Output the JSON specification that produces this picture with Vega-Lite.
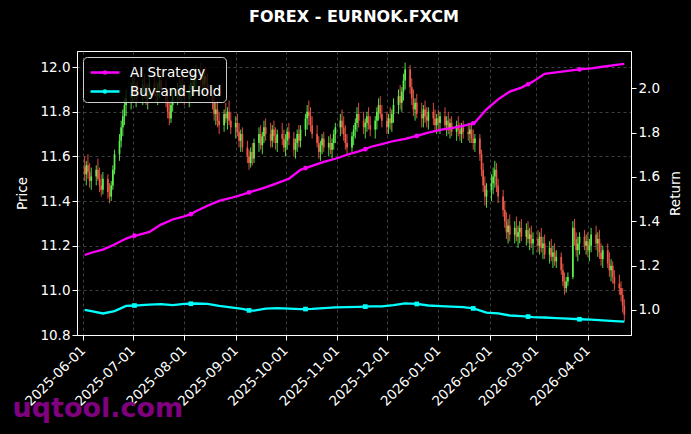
{
  "$schema": "https://vega.github.io/schema/vega-lite/v6.json",
  "autosize": {"type": "none"},
  "width": 554,
  "height": 284,
  "padding": {"left": 77, "top": 51, "right": 60, "bottom": 99},
  "background": "black",
  "title": {
    "text": "FOREX - EURNOK.FXCM",
    "color": "white",
    "font": "DejaVu Sans",
    "fontSize": 16,
    "fontWeight": "bold",
    "offset": 26
  },
  "config": {
    "view": {"stroke": "white", "strokeWidth": 1},
    "font": "DejaVu Sans",
    "axis": {
      "domainColor": "white",
      "tickColor": "white",
      "labelColor": "white",
      "titleColor": "white",
      "labelFont": "DejaVu Sans",
      "titleFont": "DejaVu Sans",
      "labelFontSize": 13.5,
      "titleFontSize": 13.5,
      "titleFontWeight": "normal",
      "tickSize": 5,
      "gridColor": "#5a5a5a",
      "gridDash": [3, 3],
      "gridWidth": 0.7
    },
    "legend": {
      "labelColor": "white",
      "labelFont": "DejaVu Sans",
      "labelFontSize": 13.5
    }
  },
  "datasets": {
    "candles": [
      {"d":"2025-06-02","o":11.55,"h":11.60,"l":11.49,"c":11.52},
      {"d":"2025-06-03","o":11.52,"h":11.58,"l":11.47,"c":11.56},
      {"d":"2025-06-04","o":11.56,"h":11.61,"l":11.50,"c":11.53},
      {"d":"2025-06-05","o":11.53,"h":11.57,"l":11.46,"c":11.49},
      {"d":"2025-06-06","o":11.49,"h":11.55,"l":11.45,"c":11.51},
      {"d":"2025-06-09","o":11.51,"h":11.56,"l":11.47,"c":11.54},
      {"d":"2025-06-10","o":11.54,"h":11.59,"l":11.49,"c":11.50},
      {"d":"2025-06-11","o":11.50,"h":11.55,"l":11.44,"c":11.47},
      {"d":"2025-06-12","o":11.47,"h":11.52,"l":11.42,"c":11.45},
      {"d":"2025-06-13","o":11.45,"h":11.53,"l":11.43,"c":11.50},
      {"d":"2025-06-16","o":11.50,"h":11.52,"l":11.41,"c":11.44},
      {"d":"2025-06-17","o":11.44,"h":11.48,"l":11.39,"c":11.42},
      {"d":"2025-06-18","o":11.42,"h":11.49,"l":11.40,"c":11.47},
      {"d":"2025-06-19","o":11.47,"h":11.56,"l":11.45,"c":11.54},
      {"d":"2025-06-20","o":11.54,"h":11.63,"l":11.52,"c":11.61},
      {"d":"2025-06-23","o":11.61,"h":11.70,"l":11.58,"c":11.67},
      {"d":"2025-06-24","o":11.67,"h":11.76,"l":11.64,"c":11.73},
      {"d":"2025-06-25","o":11.73,"h":11.81,"l":11.69,"c":11.78},
      {"d":"2025-06-26","o":11.78,"h":11.86,"l":11.74,"c":11.83},
      {"d":"2025-06-27","o":11.83,"h":11.90,"l":11.78,"c":11.86},
      {"d":"2025-06-30","o":11.86,"h":11.93,"l":11.81,"c":11.88},
      {"d":"2025-07-01","o":11.88,"h":11.95,"l":11.84,"c":11.91},
      {"d":"2025-07-02","o":11.91,"h":11.96,"l":11.85,"c":11.87},
      {"d":"2025-07-03","o":11.87,"h":11.93,"l":11.82,"c":11.90},
      {"d":"2025-07-04","o":11.90,"h":11.94,"l":11.85,"c":11.88},
      {"d":"2025-07-07","o":11.88,"h":11.95,"l":11.83,"c":11.92},
      {"d":"2025-07-08","o":11.92,"h":11.97,"l":11.86,"c":11.89},
      {"d":"2025-07-09","o":11.89,"h":11.93,"l":11.83,"c":11.86},
      {"d":"2025-07-10","o":11.86,"h":11.92,"l":11.81,"c":11.90},
      {"d":"2025-07-11","o":11.90,"h":11.96,"l":11.86,"c":11.93},
      {"d":"2025-07-14","o":11.93,"h":11.98,"l":11.87,"c":11.89},
      {"d":"2025-07-15","o":11.89,"h":11.94,"l":11.84,"c":11.87},
      {"d":"2025-07-16","o":11.87,"h":11.93,"l":11.83,"c":11.91},
      {"d":"2025-07-17","o":11.91,"h":11.97,"l":11.86,"c":11.94},
      {"d":"2025-07-18","o":11.94,"h":11.99,"l":11.88,"c":11.90},
      {"d":"2025-07-21","o":11.90,"h":11.94,"l":11.82,"c":11.85},
      {"d":"2025-07-22","o":11.85,"h":11.89,"l":11.77,"c":11.80},
      {"d":"2025-07-23","o":11.80,"h":11.84,"l":11.74,"c":11.77},
      {"d":"2025-07-24","o":11.77,"h":11.85,"l":11.75,"c":11.83},
      {"d":"2025-07-25","o":11.83,"h":11.90,"l":11.80,"c":11.87},
      {"d":"2025-07-28","o":11.87,"h":11.93,"l":11.83,"c":11.90},
      {"d":"2025-07-29","o":11.90,"h":11.95,"l":11.85,"c":11.88},
      {"d":"2025-07-30","o":11.88,"h":11.94,"l":11.84,"c":11.92},
      {"d":"2025-07-31","o":11.92,"h":11.97,"l":11.87,"c":11.89},
      {"d":"2025-08-01","o":11.89,"h":11.93,"l":11.83,"c":11.86},
      {"d":"2025-08-04","o":11.86,"h":11.92,"l":11.82,"c":11.90},
      {"d":"2025-08-05","o":11.90,"h":11.96,"l":11.86,"c":11.93},
      {"d":"2025-08-06","o":11.93,"h":11.98,"l":11.88,"c":11.91},
      {"d":"2025-08-07","o":11.91,"h":11.97,"l":11.87,"c":11.95},
      {"d":"2025-08-08","o":11.95,"h":12.01,"l":11.90,"c":11.97},
      {"d":"2025-08-11","o":11.97,"h":12.02,"l":11.91,"c":11.94},
      {"d":"2025-08-12","o":11.94,"h":11.99,"l":11.88,"c":11.92},
      {"d":"2025-08-13","o":11.92,"h":11.98,"l":11.87,"c":11.96},
      {"d":"2025-08-14","o":11.96,"h":12.00,"l":11.90,"c":11.93},
      {"d":"2025-08-15","o":11.93,"h":11.97,"l":11.86,"c":11.88},
      {"d":"2025-08-18","o":11.88,"h":11.92,"l":11.81,"c":11.84},
      {"d":"2025-08-19","o":11.84,"h":11.87,"l":11.76,"c":11.79},
      {"d":"2025-08-20","o":11.79,"h":11.84,"l":11.74,"c":11.81},
      {"d":"2025-08-21","o":11.81,"h":11.85,"l":11.73,"c":11.76},
      {"d":"2025-08-22","o":11.76,"h":11.80,"l":11.70,"c":11.74},
      {"d":"2025-08-25","o":11.74,"h":11.81,"l":11.71,"c":11.79},
      {"d":"2025-08-26","o":11.79,"h":11.84,"l":11.75,"c":11.77},
      {"d":"2025-08-27","o":11.77,"h":11.82,"l":11.72,"c":11.80},
      {"d":"2025-08-28","o":11.80,"h":11.85,"l":11.74,"c":11.76},
      {"d":"2025-08-29","o":11.76,"h":11.80,"l":11.70,"c":11.73},
      {"d":"2025-09-01","o":11.73,"h":11.78,"l":11.68,"c":11.75},
      {"d":"2025-09-02","o":11.75,"h":11.79,"l":11.69,"c":11.71},
      {"d":"2025-09-03","o":11.71,"h":11.75,"l":11.64,"c":11.67},
      {"d":"2025-09-04","o":11.67,"h":11.72,"l":11.62,"c":11.70},
      {"d":"2025-09-05","o":11.70,"h":11.73,"l":11.62,"c":11.64},
      {"d":"2025-09-08","o":11.64,"h":11.67,"l":11.57,"c":11.60},
      {"d":"2025-09-09","o":11.60,"h":11.63,"l":11.54,"c":11.57},
      {"d":"2025-09-10","o":11.57,"h":11.64,"l":11.55,"c":11.62},
      {"d":"2025-09-11","o":11.62,"h":11.66,"l":11.56,"c":11.59},
      {"d":"2025-09-12","o":11.59,"h":11.68,"l":11.57,"c":11.66},
      {"d":"2025-09-15","o":11.66,"h":11.73,"l":11.62,"c":11.70},
      {"d":"2025-09-16","o":11.70,"h":11.74,"l":11.63,"c":11.65},
      {"d":"2025-09-17","o":11.65,"h":11.71,"l":11.61,"c":11.69},
      {"d":"2025-09-18","o":11.69,"h":11.76,"l":11.66,"c":11.73},
      {"d":"2025-09-19","o":11.73,"h":11.77,"l":11.67,"c":11.70},
      {"d":"2025-09-22","o":11.70,"h":11.75,"l":11.64,"c":11.67},
      {"d":"2025-09-23","o":11.67,"h":11.74,"l":11.64,"c":11.72},
      {"d":"2025-09-24","o":11.72,"h":11.76,"l":11.66,"c":11.69},
      {"d":"2025-09-25","o":11.69,"h":11.73,"l":11.63,"c":11.66},
      {"d":"2025-09-26","o":11.66,"h":11.72,"l":11.62,"c":11.70},
      {"d":"2025-09-29","o":11.70,"h":11.75,"l":11.65,"c":11.68},
      {"d":"2025-09-30","o":11.68,"h":11.72,"l":11.62,"c":11.64},
      {"d":"2025-10-01","o":11.64,"h":11.70,"l":11.60,"c":11.67},
      {"d":"2025-10-02","o":11.67,"h":11.73,"l":11.63,"c":11.71},
      {"d":"2025-10-03","o":11.71,"h":11.75,"l":11.65,"c":11.68},
      {"d":"2025-10-06","o":11.68,"h":11.71,"l":11.60,"c":11.63},
      {"d":"2025-10-07","o":11.63,"h":11.68,"l":11.59,"c":11.66},
      {"d":"2025-10-08","o":11.66,"h":11.72,"l":11.62,"c":11.70},
      {"d":"2025-10-09","o":11.70,"h":11.74,"l":11.64,"c":11.67},
      {"d":"2025-10-10","o":11.67,"h":11.74,"l":11.64,"c":11.72},
      {"d":"2025-10-13","o":11.72,"h":11.79,"l":11.69,"c":11.77},
      {"d":"2025-10-14","o":11.77,"h":11.83,"l":11.72,"c":11.80},
      {"d":"2025-10-15","o":11.80,"h":11.85,"l":11.74,"c":11.78},
      {"d":"2025-10-16","o":11.78,"h":11.82,"l":11.71,"c":11.74},
      {"d":"2025-10-17","o":11.74,"h":11.78,"l":11.68,"c":11.70},
      {"d":"2025-10-20","o":11.70,"h":11.74,"l":11.64,"c":11.66},
      {"d":"2025-10-21","o":11.66,"h":11.69,"l":11.59,"c":11.62},
      {"d":"2025-10-22","o":11.62,"h":11.67,"l":11.58,"c":11.65},
      {"d":"2025-10-23","o":11.65,"h":11.70,"l":11.61,"c":11.68},
      {"d":"2025-10-24","o":11.68,"h":11.71,"l":11.62,"c":11.64},
      {"d":"2025-10-27","o":11.64,"h":11.69,"l":11.60,"c":11.66},
      {"d":"2025-10-28","o":11.66,"h":11.70,"l":11.61,"c":11.63},
      {"d":"2025-10-29","o":11.63,"h":11.68,"l":11.59,"c":11.66},
      {"d":"2025-10-30","o":11.66,"h":11.72,"l":11.63,"c":11.70},
      {"d":"2025-10-31","o":11.70,"h":11.75,"l":11.66,"c":11.73},
      {"d":"2025-11-03","o":11.73,"h":11.79,"l":11.69,"c":11.76},
      {"d":"2025-11-04","o":11.76,"h":11.81,"l":11.70,"c":11.73},
      {"d":"2025-11-05","o":11.73,"h":11.78,"l":11.67,"c":11.70},
      {"d":"2025-11-06","o":11.70,"h":11.74,"l":11.63,"c":11.66},
      {"d":"2025-11-07","o":11.66,"h":11.70,"l":11.61,"c":11.64},
      {"d":"2025-11-10","o":11.64,"h":11.71,"l":11.62,"c":11.69},
      {"d":"2025-11-11","o":11.69,"h":11.74,"l":11.65,"c":11.72},
      {"d":"2025-11-12","o":11.72,"h":11.77,"l":11.68,"c":11.75},
      {"d":"2025-11-13","o":11.75,"h":11.82,"l":11.71,"c":11.79},
      {"d":"2025-11-14","o":11.79,"h":11.84,"l":11.73,"c":11.76},
      {"d":"2025-11-17","o":11.76,"h":11.80,"l":11.70,"c":11.73},
      {"d":"2025-11-18","o":11.73,"h":11.77,"l":11.68,"c":11.75},
      {"d":"2025-11-19","o":11.75,"h":11.80,"l":11.71,"c":11.78},
      {"d":"2025-11-20","o":11.78,"h":11.82,"l":11.72,"c":11.74},
      {"d":"2025-11-21","o":11.74,"h":11.78,"l":11.69,"c":11.72},
      {"d":"2025-11-24","o":11.72,"h":11.78,"l":11.68,"c":11.76},
      {"d":"2025-11-25","o":11.76,"h":11.82,"l":11.72,"c":11.80},
      {"d":"2025-11-26","o":11.80,"h":11.86,"l":11.76,"c":11.83},
      {"d":"2025-11-27","o":11.83,"h":11.87,"l":11.77,"c":11.79},
      {"d":"2025-11-28","o":11.79,"h":11.83,"l":11.73,"c":11.76},
      {"d":"2025-12-01","o":11.76,"h":11.80,"l":11.70,"c":11.73},
      {"d":"2025-12-02","o":11.73,"h":11.79,"l":11.70,"c":11.77},
      {"d":"2025-12-03","o":11.77,"h":11.82,"l":11.72,"c":11.75},
      {"d":"2025-12-04","o":11.75,"h":11.81,"l":11.71,"c":11.79},
      {"d":"2025-12-05","o":11.79,"h":11.86,"l":11.75,"c":11.83},
      {"d":"2025-12-08","o":11.83,"h":11.90,"l":11.79,"c":11.87},
      {"d":"2025-12-09","o":11.87,"h":11.92,"l":11.81,"c":11.84},
      {"d":"2025-12-10","o":11.84,"h":11.91,"l":11.80,"c":11.89},
      {"d":"2025-12-11","o":11.89,"h":11.97,"l":11.85,"c":11.94},
      {"d":"2025-12-12","o":11.94,"h":12.02,"l":11.90,"c":11.99},
      {"d":"2025-12-15","o":11.99,"h":12.01,"l":11.88,"c":11.91},
      {"d":"2025-12-16","o":11.91,"h":11.95,"l":11.83,"c":11.86},
      {"d":"2025-12-17","o":11.86,"h":11.90,"l":11.78,"c":11.81},
      {"d":"2025-12-18","o":11.81,"h":11.86,"l":11.76,"c":11.84},
      {"d":"2025-12-19","o":11.84,"h":11.88,"l":11.77,"c":11.79},
      {"d":"2025-12-22","o":11.79,"h":11.84,"l":11.73,"c":11.77},
      {"d":"2025-12-23","o":11.77,"h":11.83,"l":11.73,"c":11.81},
      {"d":"2025-12-24","o":11.81,"h":11.85,"l":11.75,"c":11.78},
      {"d":"2025-12-25","o":11.78,"h":11.82,"l":11.73,"c":11.76},
      {"d":"2025-12-26","o":11.76,"h":11.82,"l":11.72,"c":11.80},
      {"d":"2025-12-29","o":11.80,"h":11.84,"l":11.74,"c":11.77},
      {"d":"2025-12-30","o":11.77,"h":11.81,"l":11.71,"c":11.74},
      {"d":"2025-12-31","o":11.74,"h":11.79,"l":11.70,"c":11.77},
      {"d":"2026-01-01","o":11.77,"h":11.81,"l":11.72,"c":11.75},
      {"d":"2026-01-02","o":11.75,"h":11.80,"l":11.70,"c":11.78},
      {"d":"2026-01-05","o":11.78,"h":11.82,"l":11.72,"c":11.74},
      {"d":"2026-01-06","o":11.74,"h":11.78,"l":11.69,"c":11.76},
      {"d":"2026-01-07","o":11.76,"h":11.80,"l":11.70,"c":11.72},
      {"d":"2026-01-08","o":11.72,"h":11.77,"l":11.68,"c":11.75},
      {"d":"2026-01-09","o":11.75,"h":11.78,"l":11.69,"c":11.71},
      {"d":"2026-01-12","o":11.71,"h":11.76,"l":11.67,"c":11.74},
      {"d":"2026-01-13","o":11.74,"h":11.78,"l":11.69,"c":11.72},
      {"d":"2026-01-14","o":11.72,"h":11.75,"l":11.67,"c":11.70},
      {"d":"2026-01-15","o":11.70,"h":11.75,"l":11.66,"c":11.73},
      {"d":"2026-01-16","o":11.73,"h":11.76,"l":11.68,"c":11.71},
      {"d":"2026-01-19","o":11.71,"h":11.75,"l":11.67,"c":11.70},
      {"d":"2026-01-20","o":11.70,"h":11.74,"l":11.66,"c":11.72},
      {"d":"2026-01-21","o":11.72,"h":11.75,"l":11.66,"c":11.68},
      {"d":"2026-01-22","o":11.68,"h":11.72,"l":11.63,"c":11.66},
      {"d":"2026-01-23","o":11.66,"h":11.70,"l":11.62,"c":11.68},
      {"d":"2026-01-26","o":11.68,"h":11.70,"l":11.58,"c":11.61},
      {"d":"2026-01-27","o":11.61,"h":11.63,"l":11.51,"c":11.54},
      {"d":"2026-01-28","o":11.54,"h":11.57,"l":11.44,"c":11.47},
      {"d":"2026-01-29","o":11.47,"h":11.51,"l":11.38,"c":11.42},
      {"d":"2026-01-30","o":11.42,"h":11.48,"l":11.37,"c":11.45},
      {"d":"2026-02-02","o":11.45,"h":11.52,"l":11.40,"c":11.48},
      {"d":"2026-02-03","o":11.48,"h":11.55,"l":11.43,"c":11.51},
      {"d":"2026-02-04","o":11.51,"h":11.58,"l":11.46,"c":11.54},
      {"d":"2026-02-05","o":11.54,"h":11.57,"l":11.44,"c":11.47},
      {"d":"2026-02-06","o":11.47,"h":11.50,"l":11.39,"c":11.42},
      {"d":"2026-02-09","o":11.42,"h":11.45,"l":11.33,"c":11.36},
      {"d":"2026-02-10","o":11.36,"h":11.40,"l":11.28,"c":11.31},
      {"d":"2026-02-11","o":11.31,"h":11.35,"l":11.23,"c":11.26},
      {"d":"2026-02-12","o":11.26,"h":11.32,"l":11.21,"c":11.29},
      {"d":"2026-02-13","o":11.29,"h":11.34,"l":11.22,"c":11.25},
      {"d":"2026-02-16","o":11.25,"h":11.31,"l":11.21,"c":11.28},
      {"d":"2026-02-17","o":11.28,"h":11.33,"l":11.22,"c":11.24},
      {"d":"2026-02-18","o":11.24,"h":11.29,"l":11.19,"c":11.26},
      {"d":"2026-02-19","o":11.26,"h":11.31,"l":11.21,"c":11.28},
      {"d":"2026-02-20","o":11.28,"h":11.32,"l":11.22,"c":11.24},
      {"d":"2026-02-23","o":11.24,"h":11.30,"l":11.20,"c":11.27},
      {"d":"2026-02-24","o":11.27,"h":11.31,"l":11.21,"c":11.23},
      {"d":"2026-02-25","o":11.23,"h":11.28,"l":11.18,"c":11.25},
      {"d":"2026-02-26","o":11.25,"h":11.29,"l":11.19,"c":11.21},
      {"d":"2026-02-27","o":11.21,"h":11.26,"l":11.16,"c":11.23},
      {"d":"2026-03-02","o":11.23,"h":11.27,"l":11.17,"c":11.20},
      {"d":"2026-03-03","o":11.20,"h":11.26,"l":11.16,"c":11.24},
      {"d":"2026-03-04","o":11.24,"h":11.28,"l":11.17,"c":11.19},
      {"d":"2026-03-05","o":11.19,"h":11.24,"l":11.14,"c":11.21},
      {"d":"2026-03-06","o":11.21,"h":11.25,"l":11.14,"c":11.16},
      {"d":"2026-03-09","o":11.16,"h":11.22,"l":11.12,"c":11.19},
      {"d":"2026-03-10","o":11.19,"h":11.23,"l":11.13,"c":11.15},
      {"d":"2026-03-11","o":11.15,"h":11.20,"l":11.10,"c":11.17},
      {"d":"2026-03-12","o":11.17,"h":11.21,"l":11.11,"c":11.13},
      {"d":"2026-03-13","o":11.13,"h":11.18,"l":11.10,"c":11.15},
      {"d":"2026-03-16","o":11.15,"h":11.17,"l":11.07,"c":11.09},
      {"d":"2026-03-17","o":11.09,"h":11.12,"l":11.02,"c":11.04},
      {"d":"2026-03-18","o":11.04,"h":11.08,"l":10.98,"c":11.01},
      {"d":"2026-03-19","o":11.01,"h":11.06,"l":10.99,"c":11.04},
      {"d":"2026-03-20","o":11.04,"h":11.08,"l":11.02,"c":11.06},
      {"d":"2026-03-23","o":11.06,"h":11.31,"l":11.05,"c":11.28},
      {"d":"2026-03-24","o":11.28,"h":11.32,"l":11.20,"c":11.23},
      {"d":"2026-03-25","o":11.23,"h":11.26,"l":11.15,"c":11.18},
      {"d":"2026-03-26","o":11.18,"h":11.24,"l":11.13,"c":11.21},
      {"d":"2026-03-27","o":11.21,"h":11.26,"l":11.16,"c":11.24},
      {"d":"2026-03-30","o":11.24,"h":11.27,"l":11.18,"c":11.20},
      {"d":"2026-03-31","o":11.20,"h":11.25,"l":11.16,"c":11.22},
      {"d":"2026-04-01","o":11.22,"h":11.26,"l":11.15,"c":11.18},
      {"d":"2026-04-02","o":11.18,"h":11.23,"l":11.13,"c":11.20},
      {"d":"2026-04-03","o":11.20,"h":11.28,"l":11.17,"c":11.25},
      {"d":"2026-04-06","o":11.25,"h":11.29,"l":11.18,"c":11.21},
      {"d":"2026-04-07","o":11.21,"h":11.26,"l":11.15,"c":11.23},
      {"d":"2026-04-08","o":11.23,"h":11.27,"l":11.14,"c":11.17},
      {"d":"2026-04-09","o":11.17,"h":11.21,"l":11.11,"c":11.14},
      {"d":"2026-04-10","o":11.14,"h":11.20,"l":11.10,"c":11.18},
      {"d":"2026-04-13","o":11.18,"h":11.21,"l":11.10,"c":11.12},
      {"d":"2026-04-14","o":11.12,"h":11.17,"l":11.06,"c":11.09},
      {"d":"2026-04-15","o":11.09,"h":11.14,"l":11.04,"c":11.11},
      {"d":"2026-04-16","o":11.11,"h":11.13,"l":11.03,"c":11.06},
      {"d":"2026-04-17","o":11.06,"h":11.09,"l":11.00,"c":11.03},
      {"d":"2026-04-20","o":11.03,"h":11.07,"l":10.98,"c":11.01},
      {"d":"2026-04-21","o":11.01,"h":11.04,"l":10.95,"c":10.98},
      {"d":"2026-04-22","o":10.98,"h":11.01,"l":10.90,"c":10.93},
      {"d":"2026-04-23","o":10.93,"h":10.96,"l":10.86,"c":10.89}
    ],
    "returns": [
      {"d":"2025-06-02","ai":1.248,"bh":1.000,"mk":0},
      {"d":"2025-06-06","ai":1.258,"bh":0.995,"mk":0},
      {"d":"2025-06-13","ai":1.272,"bh":0.984,"mk":0},
      {"d":"2025-06-20","ai":1.295,"bh":0.995,"mk":0},
      {"d":"2025-06-27","ai":1.322,"bh":1.018,"mk":0},
      {"d":"2025-07-02","ai":1.335,"bh":1.020,"mk":1},
      {"d":"2025-07-04","ai":1.338,"bh":1.021,"mk":0},
      {"d":"2025-07-11","ai":1.352,"bh":1.024,"mk":0},
      {"d":"2025-07-18","ai":1.385,"bh":1.026,"mk":0},
      {"d":"2025-07-25","ai":1.408,"bh":1.022,"mk":0},
      {"d":"2025-08-01","ai":1.422,"bh":1.027,"mk":0},
      {"d":"2025-08-05","ai":1.432,"bh":1.028,"mk":1},
      {"d":"2025-08-08","ai":1.445,"bh":1.029,"mk":0},
      {"d":"2025-08-15","ai":1.470,"bh":1.027,"mk":0},
      {"d":"2025-08-22","ai":1.492,"bh":1.018,"mk":0},
      {"d":"2025-08-29","ai":1.505,"bh":1.012,"mk":0},
      {"d":"2025-09-05","ai":1.520,"bh":1.005,"mk":0},
      {"d":"2025-09-09","ai":1.530,"bh":0.998,"mk":1},
      {"d":"2025-09-12","ai":1.537,"bh":0.997,"mk":0},
      {"d":"2025-09-19","ai":1.553,"bh":1.006,"mk":0},
      {"d":"2025-09-26","ai":1.572,"bh":1.008,"mk":0},
      {"d":"2025-10-03","ai":1.592,"bh":1.006,"mk":0},
      {"d":"2025-10-10","ai":1.632,"bh":1.004,"mk":0},
      {"d":"2025-10-13","ai":1.640,"bh":1.004,"mk":1},
      {"d":"2025-10-17","ai":1.650,"bh":1.005,"mk":0},
      {"d":"2025-10-24","ai":1.668,"bh":1.008,"mk":0},
      {"d":"2025-10-31","ai":1.682,"bh":1.012,"mk":0},
      {"d":"2025-11-07","ai":1.700,"bh":1.013,"mk":0},
      {"d":"2025-11-14","ai":1.715,"bh":1.014,"mk":0},
      {"d":"2025-11-18","ai":1.725,"bh":1.015,"mk":1},
      {"d":"2025-11-21","ai":1.735,"bh":1.016,"mk":0},
      {"d":"2025-11-28","ai":1.748,"bh":1.016,"mk":0},
      {"d":"2025-12-05","ai":1.762,"bh":1.022,"mk":0},
      {"d":"2025-12-12","ai":1.772,"bh":1.030,"mk":0},
      {"d":"2025-12-19","ai":1.785,"bh":1.027,"mk":1},
      {"d":"2025-12-26","ai":1.800,"bh":1.020,"mk":0},
      {"d":"2026-01-02","ai":1.812,"bh":1.017,"mk":0},
      {"d":"2026-01-09","ai":1.820,"bh":1.015,"mk":0},
      {"d":"2026-01-16","ai":1.830,"bh":1.013,"mk":0},
      {"d":"2026-01-22","ai":1.842,"bh":1.007,"mk":1},
      {"d":"2026-01-23","ai":1.845,"bh":1.005,"mk":0},
      {"d":"2026-01-30","ai":1.905,"bh":0.988,"mk":0},
      {"d":"2026-02-06","ai":1.950,"bh":0.985,"mk":0},
      {"d":"2026-02-13","ai":1.985,"bh":0.975,"mk":0},
      {"d":"2026-02-20","ai":2.003,"bh":0.972,"mk":0},
      {"d":"2026-02-24","ai":2.018,"bh":0.970,"mk":1},
      {"d":"2026-02-27","ai":2.030,"bh":0.968,"mk":0},
      {"d":"2026-03-06","ai":2.065,"bh":0.966,"mk":0},
      {"d":"2026-03-13","ai":2.072,"bh":0.963,"mk":0},
      {"d":"2026-03-20","ai":2.078,"bh":0.961,"mk":0},
      {"d":"2026-03-27","ai":2.085,"bh":0.958,"mk":1},
      {"d":"2026-04-03","ai":2.090,"bh":0.956,"mk":0},
      {"d":"2026-04-10","ai":2.097,"bh":0.953,"mk":0},
      {"d":"2026-04-17","ai":2.104,"bh":0.950,"mk":0},
      {"d":"2026-04-23","ai":2.110,"bh":0.947,"mk":0}
    ]
  },
  "encoding": {
    "x": {
      "field": "d",
      "type": "temporal",
      "scale": {
        "type": "utc",
        "domain": [
          {"year": 2025, "month": 5, "date": 31, "hours": 10, "utc": true},
          {"year": 2026, "month": 4, "date": 24, "hours": 0, "utc": true}
        ]
      },
      "axis": {
        "values": [
          {"year": 2025, "month": 6, "date": 1, "utc": true},
          {"year": 2025, "month": 7, "date": 1, "utc": true},
          {"year": 2025, "month": 8, "date": 1, "utc": true},
          {"year": 2025, "month": 9, "date": 1, "utc": true},
          {"year": 2025, "month": 10, "date": 1, "utc": true},
          {"year": 2025, "month": 11, "date": 1, "utc": true},
          {"year": 2025, "month": 12, "date": 1, "utc": true},
          {"year": 2026, "month": 1, "date": 1, "utc": true},
          {"year": 2026, "month": 2, "date": 1, "utc": true},
          {"year": 2026, "month": 3, "date": 1, "utc": true},
          {"year": 2026, "month": 4, "date": 1, "utc": true}
        ],
        "format": "%Y-%m-%d",
        "labelOverlap": false,
        "labelAngle": -45,
        "labelAlign": "right",
        "labelBaseline": "middle",
        "labelPadding": 8,
        "labelDx": -4,
        "grid": true,
        "title": "uqtool.com",
        "titleColor": "#800080",
        "titleFontSize": 27,
        "titleFontWeight": "bold",
        "titleAnchor": "start",
        "titleAlign": "left",
        "titleBaseline": "alphabetic",
        "titleX": -65,
        "titleY": 81
      }
    }
  },
  "layer": [
    {
      "data": {"name": "candles"},
      "encoding": {
        "y": {
          "field": "l",
          "type": "quantitative",
          "scale": {"domain": [10.8, 12.072], "nice": false, "zero": false},
          "axis": {
            "orient": "left",
            "title": "Price",
            "values": [10.8, 11.0, 11.2, 11.4, 11.6, 11.8, 12.0],
            "format": ".1f",
            "grid": true,
            "titlePadding": 10
          }
        },
        "color": {
          "condition": {"test": "datum.c >= datum.o", "value": "#5cf24e"},
          "value": "#f2574a"
        }
      },
      "layer": [
        {
          "mark": {"type": "rule", "strokeWidth": 0.9},
          "encoding": {"y2": {"field": "h"}}
        },
        {
          "mark": {"type": "bar", "width": 1.7},
          "encoding": {
            "y": {"field": "o", "type": "quantitative"},
            "y2": {"field": "c"}
          }
        }
      ]
    },
    {
      "data": {"name": "returns"},
      "transform": [{"fold": ["ai", "bh"], "as": ["s", "r"]}],
      "encoding": {
        "y": {
          "field": "r",
          "type": "quantitative",
          "scale": {"domain": [0.887, 2.168], "nice": false, "zero": false},
          "axis": {
            "orient": "right",
            "title": "Return",
            "titleAngle": -90,
            "values": [1.0, 1.2, 1.4, 1.6, 1.8, 2.0],
            "format": ".1f",
            "grid": false,
            "titlePadding": 23
          }
        }
      },
      "layer": [
        {
          "mark": {"type": "line", "strokeWidth": 2.3},
          "encoding": {
            "color": {
              "field": "s",
              "type": "nominal",
              "scale": {"domain": ["ai", "bh"], "range": ["#ff00ff", "#00ffff"]},
              "legend": {
                "title": null,
                "orient": "top-left",
                "offset": 6,
                "padding": 4,
                "rowPadding": 1,
                "fillColor": "rgba(0,0,0,0.8)",
                "strokeColor": "#cccccc",
                "cornerRadius": 4,
                "symbolType": "M-0.8,0L2.1,0M0.53,0A0.12,0.12 0 1 1 0.77,0A0.12,0.12 0 1 1 0.53,0",
                "symbolSize": 400,
                "symbolStrokeWidth": 2.3,
                "labelOffset": 20,
                "labelExpr": "datum.label == 'ai' ? 'AI Strategy' : 'Buy-and-Hold'"
              }
            }
          }
        },
        {
          "transform": [{"filter": "datum.mk == 1"}],
          "mark": {"type": "point", "filled": true, "size": 22, "opacity": 1},
          "encoding": {
            "shape": {
              "condition": {"test": "datum.s == 'ai'", "value": "circle"},
              "value": "square"
            },
            "color": {
              "condition": {"test": "datum.s == 'ai'", "value": "#ff00ff"},
              "value": "#00ffff"
            }
          }
        }
      ]
    }
  ],
  "resolve": {"scale": {"y": "independent"}}
}
